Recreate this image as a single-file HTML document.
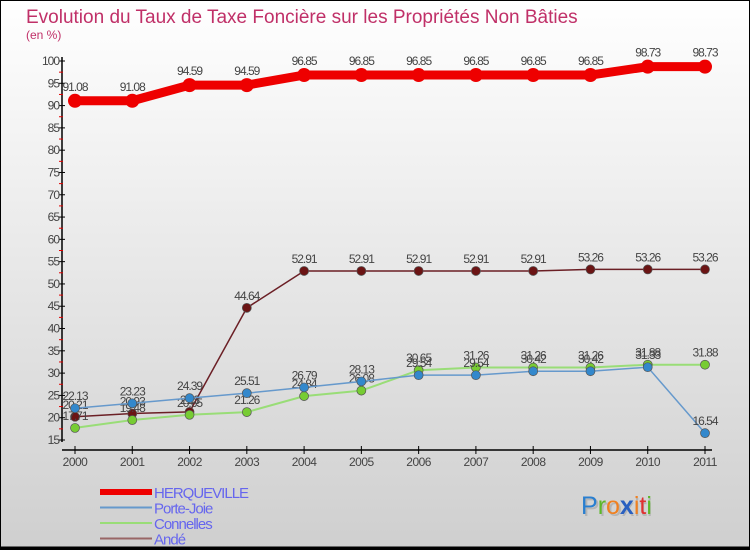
<!DOCTYPE html>
<html><head><meta charset="utf-8"><style>
html,body{margin:0;padding:0}
body{width:750px;height:550px;overflow:hidden;font-family:"Liberation Sans",sans-serif}
svg text{font-family:"Liberation Sans",sans-serif}
</style></head><body>
<svg id="chart" width="750" height="550" viewBox="0 0 750 550" xmlns="http://www.w3.org/2000/svg">
<defs><linearGradient id="bg" x1="0" y1="0" x2="0" y2="1"><stop offset="0" stop-color="#ffffff"/><stop offset="1" stop-color="#cfcfcf"/></linearGradient></defs>
<rect x="0.5" y="0.5" width="749" height="549" fill="url(#bg)" stroke="#000" stroke-width="1"/>
<line x1="0" y1="548" x2="750" y2="548" stroke="#000" stroke-width="3"/>
<text x="26" y="23" font-size="19" fill="#c03068">Evolution du Taux de Taxe Foncière sur les Propriétés Non Bâties</text>
<text x="26" y="39" font-size="12" fill="#c03068">(en %)</text>
<g id="axes"></g>
<g id="series"></g>
<g id="legend"></g>
<g font-size="25">
<text x="583" y="516" fill="#999" opacity="0.5">Proxiti</text>
<text x="581" y="514"><tspan fill="#2a7fd0">P</tspan><tspan fill="#5cb82a">r</tspan><tspan fill="#f08020">o</tspan><tspan fill="#2a60c0" font-weight="bold">x</tspan><tspan fill="#f08020">i</tspan><tspan fill="#e03030">t</tspan><tspan fill="#5cb82a">i</tspan></text>
</g>
</svg>
<script>
const years=["2000","2001","2002","2003","2004","2005","2006","2007","2008","2009","2010","2011"];
const herqueville=[91.08,91.08,94.59,94.59,96.85,96.85,96.85,96.85,96.85,96.85,98.73,98.73];
const porteJoie=[22.13,23.23,24.39,25.51,26.79,28.13,29.54,29.54,30.42,30.42,31.33,16.54];
const connelles=[17.71,19.48,20.65,21.26,24.84,26.08,30.65,31.26,31.26,31.26,31.88,31.88];
const ande=[20.21,20.93,21.3,44.64,52.91,52.91,52.91,52.91,52.91,53.26,53.26,53.26];
const yTicks=[15,20,25,30,35,40,45,50,55,60,65,70,75,80,85,90,95,100];
const NS="http://www.w3.org/2000/svg";
const xs=i=>75+i*(705-75)/(years.length-1);
const ys=v=>440+(v-15)*(61-440)/85;
function mk(tag,attrs,parent){const e=document.createElementNS(NS,tag);for(const k in attrs)e.setAttribute(k,attrs[k]);parent.appendChild(e);return e;}
const ax=document.getElementById('axes');
const yl=mk('line',{x1:62,y1:57,x2:62,y2:442,stroke:'#000','stroke-width':1.5},ax);


const xl=mk('line',{x1:62,y1:450,x2:712,y2:450,stroke:'#000','stroke-width':1.5},ax);


yTicks.forEach((t,i)=>{
  const y=ys(t);
  mk('line',{x1:59,y1:y,x2:65,y2:y,stroke:'#000'},ax);
  if(i<yTicks.length-1){mk('line',{x1:59,y1:ys(t+2.5),x2:63,y2:ys(t+2.5),stroke:'#e00000'},ax);}
  const tx=mk('text',{x:59,y:y+4,'font-size':12,'text-anchor':'end',fill:'#444','letter-spacing':'-1'},ax);
  tx.textContent=t;
  
  
});
years.forEach((yr,i)=>{
  const x=xs(i);
  mk('line',{x1:x,y1:446,x2:x,y2:454,stroke:'#000'},ax);
  const tx=mk('text',{x:x,y:466,'font-size':12,'text-anchor':'middle',fill:'#444','letter-spacing':'-0.5'},ax);
  tx.textContent=yr;
  
  
});
const sg=document.getElementById('series');
const defs=[
 {name:'ande',data:ande,color:'#6b1f25',w:1.5,r:4.5,fill:'#6b1414'},
 {name:'connelles',data:connelles,color:'#99dd77',w:2,r:4.5,fill:'#77cc33'},
 {name:'porte-joie',data:porteJoie,color:'#6699cc',w:1.5,r:4.5,fill:'#3388cc'},
 {name:'herqueville',data:herqueville,color:'#ee0000',w:9,r:7,fill:'#ee0000'}
];
defs.forEach(s=>{
  const g=mk('g',{},sg);
  
  
  const pts=s.data.map((v,i)=>xs(i)+','+ys(v)).join(' ');
  const pl=mk('polyline',{points:pts,fill:'none',stroke:s.color,'stroke-width':s.w,'stroke-linejoin':'round'},g);
  
  
  s.data.forEach((v,i)=>{
    const c=mk('circle',{cx:xs(i),cy:ys(v),r:s.r,fill:s.fill,stroke:'#555','stroke-width':s.name==='herqueville'?0:0.7},g);
    
    
    const t=mk('text',{x:xs(i),y:ys(v)-(s.name==='herqueville'?10:8),'font-size':12,'text-anchor':'middle',fill:'#444','letter-spacing':'-1'},g);
    t.textContent=v.toFixed(2).replace(/0$/,'').replace(/\.$/,'');
    
    
  });
});
const lg=document.getElementById('legend');
const leg=[['HERQUEVILLE','#ee0000',6],['Porte-Joie','#6699cc',2],['Connelles','#99dd77',2],['Andé','#996666',2]];
leg.forEach((l,i)=>{
  const y=492+i*15.5;
  const ln=mk('line',{x1:100,y1:y,x2:152,y2:y,stroke:l[1],'stroke-width':l[2]},lg);
  
  
  const t=mk('text',{x:154,y:y+6,'font-size':15,fill:'#6666ee','letter-spacing':'-1'},lg);
  t.textContent=l[0];
  
  
});
</script>
</body></html>
